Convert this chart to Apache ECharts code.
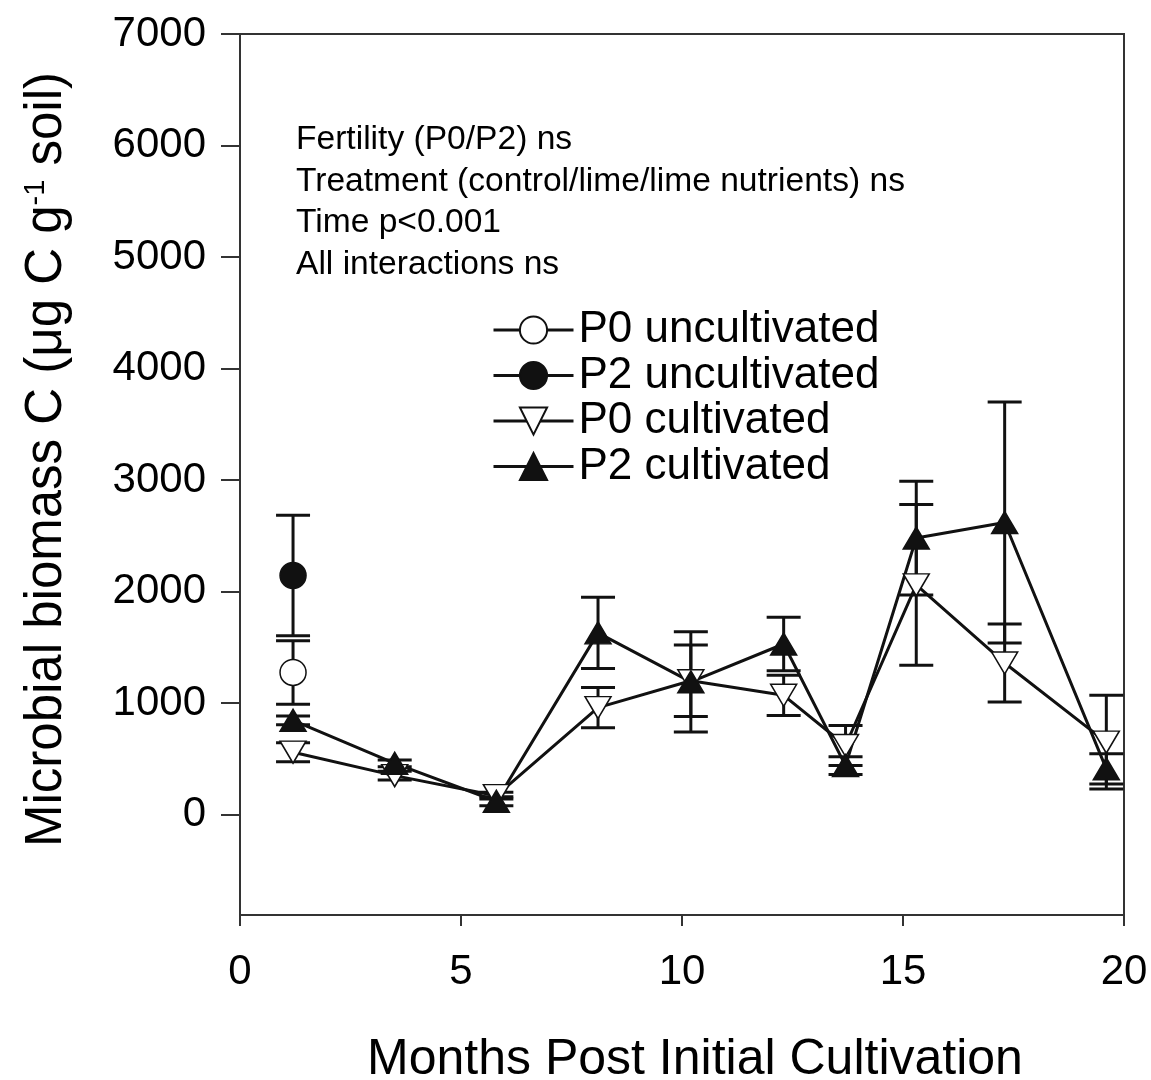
<!DOCTYPE html>
<html>
<head>
<meta charset="utf-8">
<script src="https://cdn.jsdelivr.net/npm/echarts@6/dist/echarts.min.js"></script>
<style>
html,body{margin:0;padding:0;background:#fff;}
#chart{width:1151px;height:1080px;}
</style>
</head>
<body>
<div id="chart"></div>
<script>
// ---- data ----
const months = [1.2, 3.5, 5.8, 8.1, 10.2, 12.3, 13.7, 15.3, 17.3, 19.6];

const p0UncX = [1.2];
const p0UncMean = [1275];
const p0UncErr = [285];

const p2UncX = [1.2];
const p2UncMean = [2145];
const p2UncErr = [540];

const p0CultMean = [560, 350, 170, 960, 1200, 1070, 620, 2060, 1360, 650];
const p0CultErr  = [85, 40, 30, 180, 320, 180, 180, 720, 350, 420];

const p2CultMean = [845, 460, 120, 1630, 1190, 1530, 440, 2480, 2620, 410];
const p2CultErr  = [40, 30, 40, 320, 450, 240, 80, 510, 1080, 135];

const yTicks = [0, 1000, 2000, 3000, 4000, 5000, 6000, 7000];
const xTicks = [0, 5, 10, 15, 20];

const annotationLines = [
  'Fertility (P0/P2) ns',
  'Treatment (control/lime/lime nutrients) ns',
  'Time p<0.001',
  'All interactions ns'
];

// ---- build ----
const FONT = "'Liberation Sans', Arial, sans-serif";
const INK = '#111';

function pairs(xs, ys) { return xs.map((x, i) => [x, ys[i]]); }
function errData(xs, ys, es) { return xs.map((x, i) => [x, ys[i] - es[i], ys[i] + es[i]]); }

function errorSeries(data) {
  return {
    type: 'custom',
    silent: true,
    z: 1,
    data: data,
    renderItem: function (params, api) {
      const x = api.value(0);
      const lo = api.coord([x, api.value(1)]);
      const hi = api.coord([x, api.value(2)]);
      const half = 17;
      const st = { stroke: INK, lineWidth: 3 };
      return {
        type: 'group',
        children: [
          { type: 'line', shape: { x1: lo[0], y1: lo[1], x2: hi[0], y2: hi[1] }, style: st },
          { type: 'line', shape: { x1: lo[0] - half, y1: lo[1], x2: lo[0] + half, y2: lo[1] }, style: st },
          { type: 'line', shape: { x1: hi[0] - half, y1: hi[1], x2: hi[0] + half, y2: hi[1] }, style: st }
        ]
      };
    }
  };
}

function lineSeries(name, data, symbol, size, fill, rotate) {
  return {
    name: name,
    type: 'line',
    z: 3,
    data: data,
    symbol: symbol,
    symbolSize: size,
    symbolRotate: rotate || 0,
    showAllSymbol: true,
    lineStyle: { color: INK, width: 3 },
    itemStyle: { color: fill, borderColor: INK, borderWidth: 1.5 },
    emphasis: { disabled: true },
    animation: false
  };
}

const chart = echarts.init(document.getElementById('chart'));
chart.setOption({
  animation: false,
  backgroundColor: '#ffffff',
  grid: {
    left: 240, right: 27, top: 34, bottom: 165,
    containLabel: false, outerBoundsMode: 'none',
    show: true, borderColor: '#333', borderWidth: 2, backgroundColor: 'transparent'
  },
  xAxis: {
    type: 'value', min: 0, max: 20, interval: 5,
    axisLine: { show: true, onZero: false, lineStyle: { color: '#333', width: 2 } },
    axisTick: { show: true, inside: false, length: 11, lineStyle: { color: '#333', width: 2 } },
    axisLabel: { show: true, fontFamily: FONT, fontSize: 42, color: '#000', margin: 36,
                 customValues: xTicks, formatter: v => String(v) },
    splitLine: { show: false },
    name: 'Months Post Initial Cultivation',
    nameLocation: 'middle', nameGap: 120,
    nameTextStyle: { fontFamily: FONT, fontSize: 50, color: '#000', padding: [0, 0, 0, 26] }
  },
  yAxis: {
    type: 'value', min: -900, max: 7000,
    axisLine: { show: true, onZero: false, lineStyle: { color: '#333', width: 2 } },
    axisTick: { show: true, inside: false, length: 19, lineStyle: { color: '#333', width: 2 },
                customValues: yTicks },
    axisLabel: { show: true, fontFamily: FONT, fontSize: 42, color: '#000', margin: 34,
                 customValues: yTicks, formatter: v => String(v) },
    splitLine: { show: false },
    name: 'Microbial biomass C (\u03bcg C g{sup|-1} soil)',
    nameLocation: 'middle', nameGap: 168,
    nameTextStyle: {
      fontFamily: FONT, fontSize: 51, color: '#000', padding: [0, 0, 0, 30],
      rich: { sup: { fontFamily: FONT, fontSize: 29, color: '#000', verticalAlign: 'top', lineHeight: 51 } }
    }
  },
  legend: {
    orient: 'vertical',
    left: 487, top: 303,
    itemWidth: 80, itemHeight: 34, itemGap: 1.5,
    selectedMode: false,
    lineStyle: { width: 3, color: INK },
    textStyle: { fontFamily: FONT, fontSize: 44, color: '#000', lineHeight: 41 },
    data: ['P0 uncultivated', 'P2 uncultivated', 'P0 cultivated', 'P2 cultivated']
  },
  graphic: [{
    type: 'text',
    left: 296, top: 119,
    style: {
      text: annotationLines.join('\n'),
      fontFamily: FONT, fontSize: 33.6, lineHeight: 41.5, fill: '#000'
    }
  }],
  series: [
    errorSeries(errData(p0UncX, p0UncMean, p0UncErr)),
    errorSeries(errData(p2UncX, p2UncMean, p2UncErr)),
    errorSeries(errData(months, p0CultMean, p0CultErr)),
    errorSeries(errData(months, p2CultMean, p2CultErr)),
    lineSeries('P0 uncultivated', pairs(p0UncX, p0UncMean), 'circle', 26, '#fff'),
    lineSeries('P2 uncultivated', pairs(p2UncX, p2UncMean), 'circle', 26, INK),
    lineSeries('P0 cultivated', pairs(months, p0CultMean), 'triangle', [26, 22], '#fff', 180),
    lineSeries('P2 cultivated', pairs(months, p2CultMean), 'triangle', [26, 22], INK)
  ]
});
</script>
</body>
</html>
